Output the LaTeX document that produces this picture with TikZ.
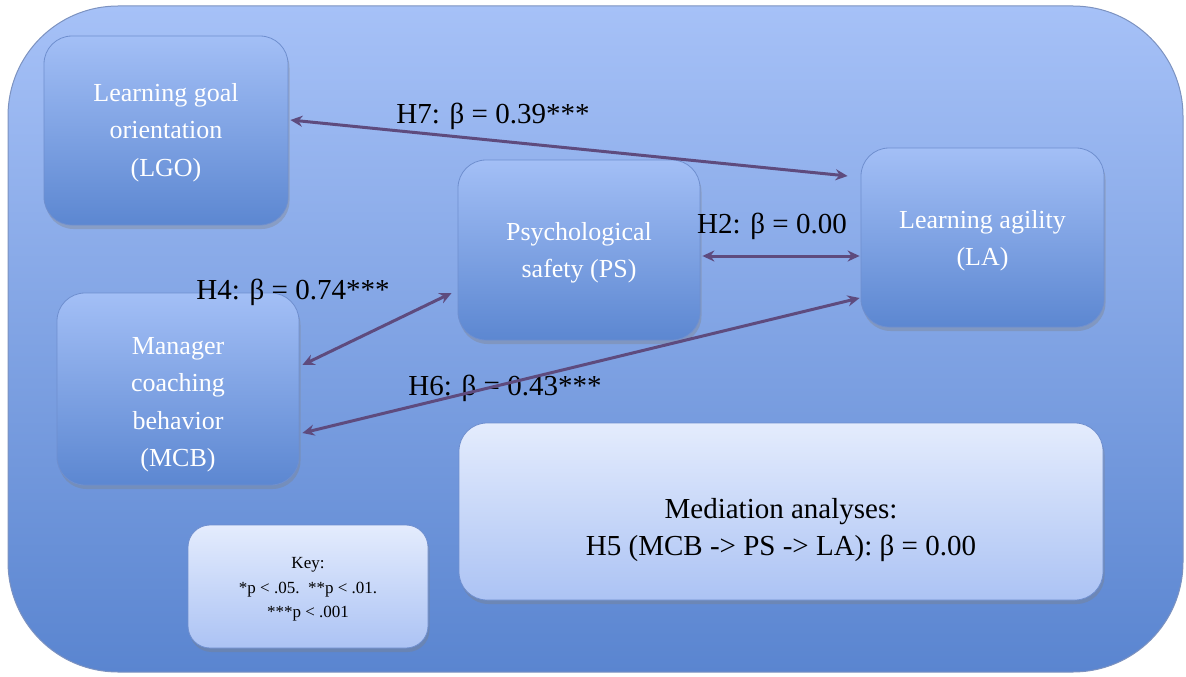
\documentclass[tikz,border=0pt]{standalone}
\usepackage{fontspec}
\setmainfont{Liberation Serif}
\usetikzlibrary{shadows,arrows.meta}
\definecolor{outertop}{HTML}{A6C1F7}
\definecolor{outermid}{HTML}{93B1EE}
\definecolor{outerbot}{HTML}{5A85D0}
\definecolor{outerborder}{HTML}{7C92C0}
\definecolor{boxtop}{HTML}{A3BFF6}
\definecolor{boxmid}{HTML}{90AFEC}
\definecolor{boxbot}{HTML}{5C87D1}
\definecolor{boxborder}{HTML}{6F8FCF}
\definecolor{lighttop}{HTML}{E4ECFD}
\definecolor{lightbot}{HTML}{ACC3F4}
\definecolor{arrowcol}{HTML}{5E4B7E}
\begin{document}
\begin{tikzpicture}[x=1pt,y=-1pt,
  box/.style={draw=boxborder, line width=0.8pt, rounded corners=28pt,
    top color=boxtop, middle color=boxmid, bottom color=boxbot,
    text=white, align=center, inner sep=0pt,
    font=\fontsize{26}{36.5}\selectfont,
    drop shadow={shadow xshift=1.5pt, shadow yshift=-4pt, opacity=0.35}},
  lightbox/.style={box, top color=lighttop, middle color=lighttop!50!lightbot, bottom color=lightbot, text=black},
  boxtext/.style={text=white, align=center, inner sep=0pt, font=\fontsize{26}{37.5}\selectfont},
  lbl/.style={text=black, inner sep=0pt, font=\fontsize{29}{30}\selectfont},
  conn/.style={draw=arrowcol, line width=3pt,
    {Stealth[length=12pt,width=11pt]}-{Stealth[length=12pt,width=11pt]}}]
\useasboundingbox (0,0) rectangle (1186,677);
\path[draw=outerborder, line width=1pt, top color=outertop, middle color=outermid,
  bottom color=outerbot, rounded corners=110pt] (8,6) rectangle (1183,672);

\node[box, minimum width=244pt, minimum height=189pt] (LGO) at (166,130.5) {};
\node[boxtext] (LGOt) at ([yshift=-2pt]LGO.center) {Learning goal\\orientation\\(LGO)};
\node[box, minimum width=242pt, minimum height=180pt] (PS) at (579,250) {};
\node[boxtext] (PSt) at ([yshift=-3pt]PS.center) {Psychological\\safety (PS)};
\node[box, minimum width=243pt, minimum height=179pt] (LA) at (982.5,237.5) {};
\node[boxtext] (LAt) at ([yshift=-3pt]LA.center) {Learning agility\\(LA)};
\node[box, minimum width=242pt, minimum height=192pt] (MCB) at (178,389) {};
\node[boxtext] (MCBt) at ([yshift=-16pt]MCB.center) {Manager\\coaching\\behavior\\(MCB)};
\node[lightbox, minimum width=240pt, minimum height=123pt, rounded corners=22pt] (KEY) at (308,586.5) {};
\node[text=black, align=center, inner sep=0pt, font=\fontsize{17}{24.5}\selectfont] (KEYt)
  at ([yshift=-3pt]KEY.center) {Key:\\*p < .05.\ \ **p < .01.\\***p < .001};
\node[lightbox, minimum width=644pt, minimum height=177pt] (MED) at (781,511.5) {};
\node[text=black, align=center, inner sep=0pt, font=\fontsize{29}{37}\selectfont] (MEDt)
  at ([yshift=-19pt]MED.center) {Mediation analyses:\\H5 (MCB -> PS -> LA): β = 0.00};

\node[lbl] (H7) at (493,116) {H7: β = 0.39***};
\node[lbl] (H2) at (772,226) {H2: β = 0.00};
\node[lbl] (H4) at (293,292) {H4: β = 0.74***};
\node[lbl] (H6) at (505,388) {H6: β = 0.43***};

\draw[conn] ([xshift=2pt,yshift=10.5pt]LGO.east) -- ([xshift=-13pt,yshift=61.5pt]LA.west);
\draw[conn] ([xshift=2pt,yshift=-6pt]PS.east) -- ([xshift=-1pt,yshift=-18.5pt]LA.west);
\draw[conn] ([xshift=3pt,yshift=24pt]MCB.east) -- ([xshift=-6pt,yshift=-43pt]PS.west);
\draw[conn] ([xshift=3pt,yshift=-44pt]MCB.east) -- ([xshift=-1pt,yshift=-60.5pt]LA.west);
\end{tikzpicture}
\end{document}
